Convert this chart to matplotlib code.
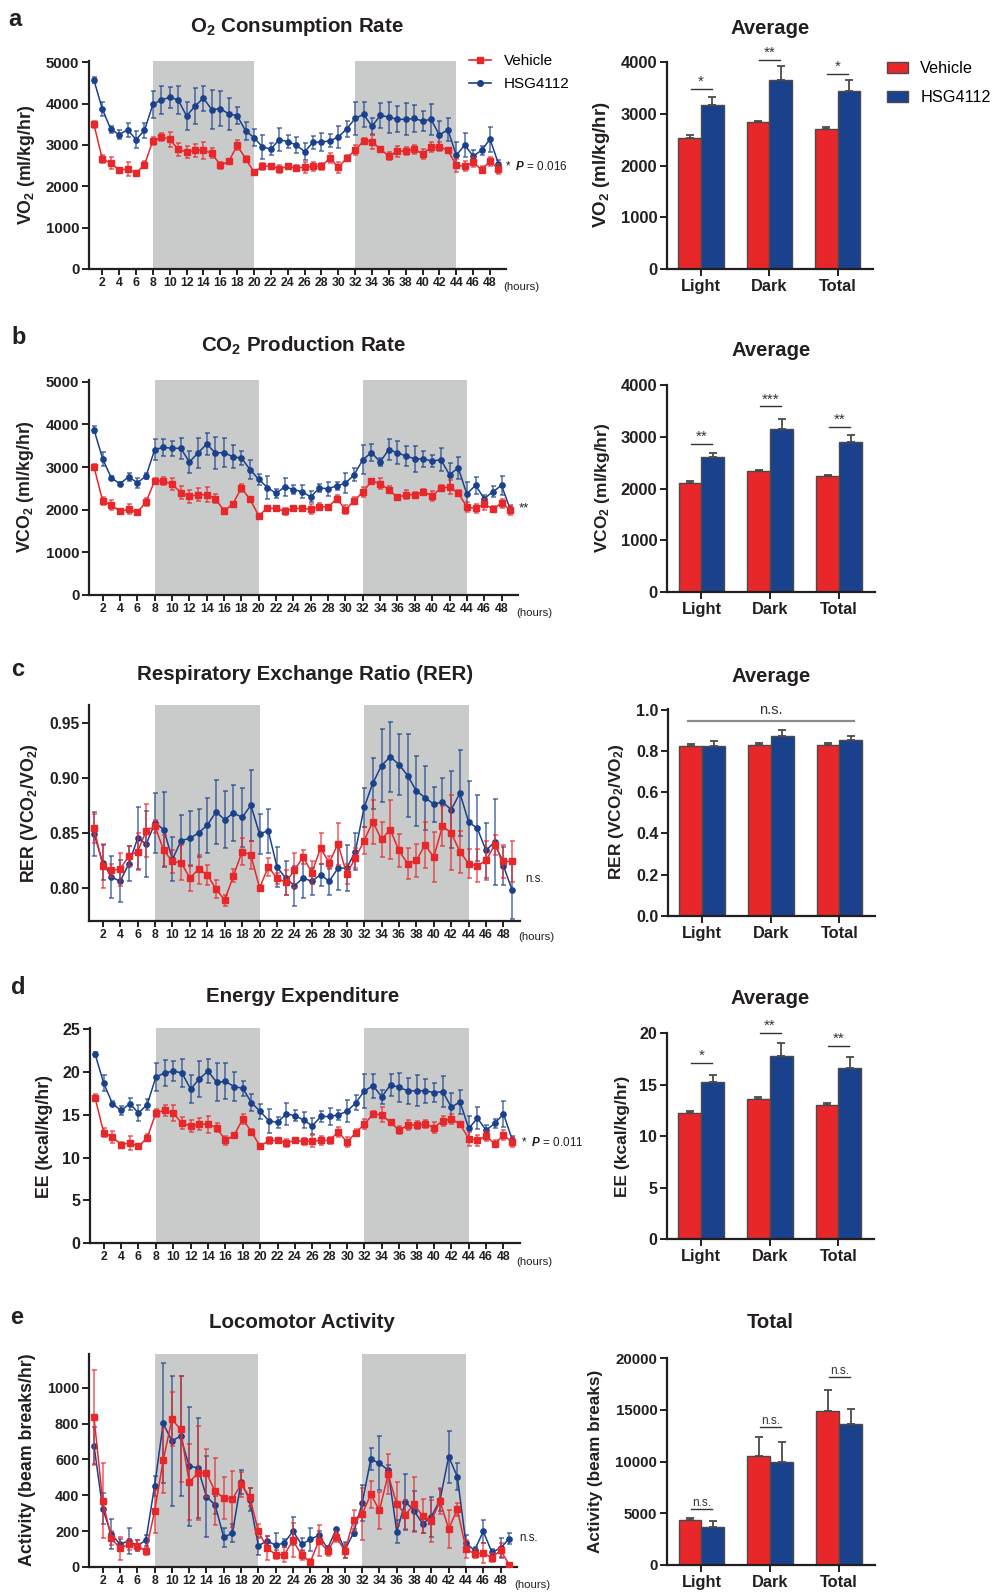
import matplotlib.pyplot as plt
from matplotlib.lines import Line2D
from matplotlib.patches import Patch
from matplotlib.colors import to_rgba
from matplotlib.ticker import FormatStrFormatter
import numpy as np

plt.rcParams['font.family'] = ['Liberation Sans', 'DejaVu Sans']
plt.rcParams['font.weight'] = 'bold'
plt.rcParams['mathtext.fontset'] = 'custom'
plt.rcParams['mathtext.rm'] = 'Liberation Sans:bold'
plt.rcParams['mathtext.bf'] = 'Liberation Sans:bold'
plt.rcParams['mathtext.it'] = 'Liberation Sans:italic'

RED = '#E8272B'
BLUE = '#1A418B'
SHADE = '#C9CACA'
INK = '#231F20'
EDGE = '#4A4A4A'
W, H = 995, 1593

hours = np.arange(1, 50)
hour_ticks = np.arange(2, 49, 2)
dark_phases = [(8, 20), (32, 44)]
groups = ['Light', 'Dark', 'Total']

# ---- a: O2 consumption (ml/kg/hr)
vo2_hsg = [4570, 3870, 3380, 3250, 3370, 3130, 3350, 3980, 4090, 4150,
           4090, 3700, 3940, 4130, 3850, 3880, 3750, 3710, 3340, 3180,
           2950, 2900, 3130, 3080, 3000, 2840, 3060, 3070, 3100, 3190,
           3390, 3640, 3740, 3450, 3720, 3670, 3620, 3620, 3640, 3580,
           3620, 3240, 3370, 2750, 3000, 2730, 2870, 3140, 2550]
vo2_hsg_err = [80, 180, 90, 100, 170, 200, 170, 330, 330, 260,
               340, 350, 430, 300, 470, 430, 380, 200, 220, 200,
               300, 150, 270, 150, 190, 210, 150, 220, 160, 270,
               200, 390, 310, 200, 300, 370, 310, 390, 320, 240,
               380, 350, 280, 310, 290, 150, 110, 300, 80]
vo2_veh = [3500, 2660, 2560, 2390, 2420, 2320, 2520, 3100, 3190, 3140,
           2890, 2830, 2870, 2870, 2800, 2510, 2600, 2990, 2670, 2340,
           2480, 2490, 2420, 2480, 2440, 2460, 2480, 2480, 2680, 2460,
           2680, 2870, 3100, 3080, 2900, 2730, 2850, 2850, 2890, 2790,
           2940, 2960, 2870, 2510, 2480, 2580, 2400, 2600, 2420]
vo2_veh_err = [80, 100, 150, 60, 160, 50, 80, 100, 100, 180,
               150, 150, 150, 200, 120, 80, 60, 120, 60, 60,
               80, 60, 100, 60, 80, 130, 100, 80, 120, 130,
               80, 120, 60, 180, 60, 100, 130, 100, 100, 120,
               120, 100, 60, 160, 120, 120, 80, 120, 130]
vo2_bar_veh = [2540, 2840, 2700]
vo2_bar_veh_err = [50, 30, 45]
vo2_bar_hsg = [3180, 3650, 3440]
vo2_bar_hsg_err = [150, 280, 225]
vo2_sig_y = [3480, 4040, 3770]
vo2_sig = ['*', '**', '*']

# ---- b: CO2 production (ml/kg/hr)
vco2_hsg = [3870, 3190, 2740, 2610, 2770, 2630, 2790, 3410, 3460, 3440,
            3440, 3120, 3330, 3540, 3330, 3340, 3240, 3210, 2940, 2710,
            2520, 2380, 2540, 2470, 2420, 2300, 2510, 2490, 2560, 2620,
            2820, 3170, 3340, 3120, 3410, 3330, 3260, 3190, 3190, 3140,
            3170, 2820, 2980, 2370, 2570, 2260, 2420, 2570, 2010]
vco2_hsg_err = [80, 160, 50, 50, 100, 120, 60, 250, 200, 180,
                250, 250, 360, 250, 370, 340, 270, 160, 230, 130,
                260, 100, 210, 100, 150, 130, 100, 170, 90, 230,
                150, 340, 210, 90, 240, 270, 230, 300, 180, 150,
                270, 280, 260, 270, 200, 80, 130, 230, 80]
vco2_veh = [3000, 2200, 2110, 1960, 2010, 1940, 2180, 2680, 2670, 2600,
            2400, 2310, 2350, 2350, 2260, 1970, 2130, 2510, 2240, 1860,
            2040, 2030, 1960, 2030, 2030, 2010, 2070, 2060, 2260, 2000,
            2210, 2410, 2670, 2610, 2470, 2290, 2350, 2350, 2420, 2320,
            2510, 2530, 2400, 2060, 2030, 2130, 2020, 2150, 2000]
vco2_veh_err = [80, 100, 120, 40, 120, 40, 100, 70, 100, 150,
                150, 150, 150, 180, 100, 70, 50, 100, 60, 50,
                50, 50, 90, 50, 60, 120, 80, 60, 80, 100,
                80, 120, 50, 130, 80, 60, 100, 70, 70, 120,
                70, 160, 60, 120, 110, 130, 60, 100, 120]
vco2_bar_veh = [2100, 2345, 2240]
vco2_bar_veh_err = [40, 15, 20]
vco2_bar_hsg = [2620, 3155, 2905]
vco2_bar_hsg_err = [77, 187, 142]
vco2_sig_y = [2870, 3590, 3195]
vco2_sig = ['**', '***', '**']

# ---- c: RER
rer_hsg = [0.849, 0.823, 0.810, 0.806, 0.822, 0.845, 0.840, 0.859, 0.853, 0.826,
           0.843, 0.845, 0.850, 0.857, 0.869, 0.862, 0.868, 0.864, 0.875, 0.849,
           0.852, 0.819, 0.809, 0.802, 0.809, 0.806, 0.812, 0.806, 0.818, 0.818,
           0.833, 0.873, 0.895, 0.911, 0.919, 0.912, 0.902, 0.888, 0.882, 0.876,
           0.878, 0.871, 0.886, 0.860, 0.854, 0.834, 0.842, 0.820, 0.798]
rer_hsg_err = [0.020, 0.016, 0.019, 0.019, 0.016, 0.028, 0.030, 0.027, 0.034, 0.020,
               0.023, 0.025, 0.022, 0.025, 0.029, 0.026, 0.025, 0.027, 0.032, 0.018,
               0.020, 0.018, 0.015, 0.018, 0.018, 0.012, 0.010, 0.012, 0.020, 0.021,
               0.017, 0.018, 0.023, 0.033, 0.032, 0.028, 0.038, 0.032, 0.029, 0.016,
               0.022, 0.035, 0.039, 0.037, 0.030, 0.025, 0.039, 0.017, 0.026]
rer_veh = [0.854, 0.820, 0.816, 0.817, 0.829, 0.833, 0.852, 0.856, 0.834, 0.824,
           0.823, 0.809, 0.817, 0.812, 0.799, 0.789, 0.811, 0.833, 0.830, 0.800,
           0.819, 0.809, 0.805, 0.816, 0.828, 0.814, 0.836, 0.823, 0.840, 0.813,
           0.827, 0.843, 0.860, 0.844, 0.853, 0.834, 0.822, 0.825, 0.839, 0.828,
           0.856, 0.850, 0.833, 0.822, 0.820, 0.825, 0.839, 0.824, 0.824]
rer_veh_err = [0.013, 0.020, 0.006, 0.015, 0.009, 0.017, 0.024, 0.006, 0.014, 0.010,
               0.016, 0.012, 0.013, 0.009, 0.008, 0.005, 0.006, 0.012, 0.013, 0.003,
               0.008, 0.005, 0.011, 0.016, 0.006, 0.010, 0.014, 0.006, 0.019, 0.009,
               0.009, 0.012, 0.020, 0.016, 0.027, 0.015, 0.014, 0.015, 0.021, 0.023,
               0.018, 0.034, 0.019, 0.013, 0.015, 0.018, 0.009, 0.015, 0.019]
rer_bar_veh = [0.825, 0.828, 0.828]
rer_bar_veh_err = [0.007, 0.011, 0.008]
rer_bar_hsg = [0.825, 0.872, 0.851]
rer_bar_hsg_err = [0.021, 0.027, 0.023]

# ---- d: energy expenditure (kcal/kg/hr)
ee_hsg = [22.1, 18.7, 16.3, 15.5, 16.3, 15.2, 16.2, 19.4, 19.9, 20.1,
          19.9, 18.0, 19.2, 20.1, 18.8, 18.9, 18.3, 18.1, 16.4, 15.4,
          14.3, 14.1, 15.1, 14.9, 14.4, 13.7, 14.8, 14.8, 15.0, 15.4,
          16.4, 17.8, 18.4, 17.1, 18.5, 18.2, 17.8, 17.8, 17.8, 17.6,
          17.7, 15.9, 16.5, 13.4, 14.6, 13.2, 14.0, 15.1, 12.1]
ee_hsg_err = [0.3, 0.9, 0.3, 0.5, 0.7, 0.9, 0.7, 1.6, 1.5, 1.2,
              1.6, 1.6, 2.1, 1.4, 2.2, 2.1, 1.7, 0.9, 1.0, 0.9,
              1.4, 0.6, 1.3, 0.6, 0.9, 0.9, 0.6, 1.0, 0.6, 1.3,
              0.9, 2.0, 1.4, 0.8, 1.3, 1.7, 1.5, 1.8, 1.4, 1.1,
              1.8, 1.6, 1.4, 1.5, 1.3, 0.6, 0.5, 1.5, 0.4]
ee_veh = [17.0, 12.9, 12.4, 11.5, 11.7, 11.3, 12.3, 15.2, 15.5, 15.2,
          14.0, 13.7, 13.9, 13.9, 13.5, 12.0, 12.6, 14.5, 13.0, 11.3,
          12.0, 12.0, 11.7, 12.0, 11.9, 11.9, 12.0, 12.0, 13.0, 11.8,
          12.9, 13.9, 15.1, 15.0, 14.1, 13.2, 13.8, 13.8, 13.9, 13.5,
          14.3, 14.5, 13.9, 12.2, 12.0, 12.5, 11.6, 12.6, 11.8]
ee_veh_err = [0.4, 0.5, 0.7, 0.3, 0.8, 0.3, 0.4, 0.5, 0.6, 0.9,
              0.7, 0.7, 0.7, 1.0, 0.5, 0.5, 0.3, 0.6, 0.3, 0.3,
              0.4, 0.3, 0.5, 0.3, 0.4, 0.7, 0.5, 0.4, 0.6, 0.6,
              0.4, 0.6, 0.3, 0.9, 0.3, 0.5, 0.6, 0.5, 0.5, 0.6,
              0.6, 0.6, 0.3, 0.8, 0.6, 0.6, 0.4, 0.6, 0.6]
ee_bar_veh = [12.25, 13.65, 13.05]
ee_bar_veh_err = [0.2, 0.15, 0.12]
ee_bar_hsg = [15.3, 17.75, 16.65]
ee_bar_hsg_err = [0.6, 1.3, 1.0]
ee_sig_y = [17.15, 20.05, 18.75]
ee_sig = ['*', '**', '**']

# ---- e: locomotor activity (beam breaks/hr)
act_hsg = [677, 325, 182, 128, 145, 119, 149, 452, 801, 703,
           730, 561, 554, 392, 346, 165, 190, 474, 375, 119,
           145, 122, 134, 200, 126, 154, 177, 104, 210, 93,
           191, 355, 602, 578, 541, 197, 364, 314, 240, 281,
           374, 615, 504, 132, 93, 199, 82, 106, 158]
act_hsg_err = [105, 85, 84, 30, 75, 30, 30, 55, 335, 365,
               335, 333, 278, 225, 50, 55, 50, 65, 65, 50,
               30, 65, 20, 80, 35, 65, 25, 15, 10, 45,
               20, 100, 63, 150, 30, 65, 155, 112, 50, 111,
               60, 145, 74, 46, 20, 65, 20, 55, 30]
act_veh = [834, 370, 160, 104, 126, 119, 87, 310, 595, 824,
           768, 472, 524, 524, 422, 385, 379, 461, 390, 199,
           106, 69, 69, 148, 67, 28, 147, 89, 169, 89,
           260, 296, 405, 316, 517, 351, 292, 349, 284, 258,
           368, 212, 322, 100, 74, 78, 52, 93, 13]
act_veh_err = [265, 208, 40, 65, 30, 30, 20, 120, 180, 150,
               296, 212, 264, 136, 188, 119, 158, 70, 50, 40,
               65, 25, 40, 95, 30, 15, 87, 30, 30, 40,
               58, 143, 75, 104, 111, 125, 80, 151, 93, 116,
               74, 106, 37, 50, 25, 55, 25, 40, 5]
act_bar_veh = [4330, 10560, 14860]
act_bar_veh_err = [190, 1830, 2090]
act_bar_hsg = [3630, 9980, 13640]
act_bar_hsg_err = [610, 1960, 1480]
act_sig_y = [5460, 13390, 18200]
act_sig = ['n.s.', 'n.s.', 'n.s.']

fig = plt.figure(figsize=(W / 100, H / 100), dpi=100)


def box(l, t, r, b):
    return [l / W, 1 - b / H, (r - l) / W, (b - t) / H]


def txt(x, y, s, **kw):
    kw.setdefault('color', INK)
    return fig.text(x / W, 1 - y / H, s, **kw)


def spines(ax):
    for s in ['top', 'right']:
        ax.spines[s].set_visible(False)
    for s in ['left', 'bottom']:
        ax.spines[s].set_linewidth(1.6)
        ax.spines[s].set_color(INK)


def line_panel(px, veh, veh_err, hsg, hsg_err, ylim, yticks, fmt, ysize=10.8):
    ax = fig.add_axes(box(*px))
    for s, e in dark_phases:
        ax.axvspan(s, e, color=SHADE, lw=0, zorder=0)
    ax.errorbar(hours, hsg, yerr=hsg_err, color=BLUE, lw=1.1, marker='o', ms=3.8,
                ecolor=to_rgba(BLUE, 0.75), elinewidth=1.1, capsize=1.8, capthick=1.1, zorder=2)
    ax.errorbar(hours, veh, yerr=veh_err, color=RED, lw=1.1, marker='s', ms=4.2,
                ecolor=to_rgba(RED, 0.75), elinewidth=1.1, capsize=1.8, capthick=1.1, zorder=3)
    ax.set_xlim(0.42, 49.9)
    ax.set_ylim(*ylim)
    ax.set_xticks(hour_ticks)
    ax.set_yticks(yticks)
    ax.yaxis.set_major_formatter(FormatStrFormatter(fmt))
    spines(ax)
    ax.tick_params(axis='x', colors=INK, width=1.4, length=4, labelsize=8.8, pad=2)
    ax.tick_params(axis='y', colors=INK, width=1.4, length=5, labelsize=ysize, pad=2)
    return ax


def bar_panel(px, veh, veh_err, hsg, hsg_err, ylim, yticks, fmt, ysize=11.5):
    ax = fig.add_axes(box(*px))
    x = np.arange(len(groups))
    w = 0.333
    ax.bar(x - w / 2, veh, w, color=RED, edgecolor=EDGE, lw=1.0, zorder=2)
    ax.bar(x + w / 2, hsg, w, color=BLUE, edgecolor=EDGE, lw=1.0, zorder=2)
    ax.errorbar(x - w / 2, veh, yerr=[np.zeros(3), veh_err], fmt='none', ecolor=EDGE,
                elinewidth=1.3, capsize=3.2, capthick=1.3, zorder=1)
    ax.errorbar(x + w / 2, hsg, yerr=[np.zeros(3), hsg_err], fmt='none', ecolor=EDGE,
                elinewidth=1.3, capsize=3.2, capthick=1.3, zorder=1)
    ax.set_xlim(-0.5, 2.52)
    ax.set_ylim(*ylim)
    ax.set_xticks(x)
    ax.set_xticklabels(groups)
    ax.set_yticks(yticks)
    ax.yaxis.set_major_formatter(FormatStrFormatter(fmt))
    spines(ax)
    ax.tick_params(axis='x', colors=INK, width=1.4, length=5, labelsize=11.8, pad=2)
    ax.tick_params(axis='y', colors=INK, width=1.4, length=5, labelsize=ysize, pad=2)
    return ax


def sig_marks(ax, ys, labels, size):
    for i, (y, s) in enumerate(zip(ys, labels)):
        ax.plot([i - 0.15, i + 0.16], [y, y], color='#333333', lw=1.0, clip_on=False)
        ax.text(i, y, s, ha='center', va='bottom', fontsize=size, fontweight='normal',
                color='#333333', clip_on=False)


def hours_label(x, y):
    txt(x, y, '(hours)', fontsize=8.2, fontweight='normal', ha='left', va='center')


TITLE = 14.8

# ---------------- row a
ax = line_panel((89, 61, 506, 269), vo2_veh, vo2_veh_err, vo2_hsg, vo2_hsg_err,
                (0, 5030), np.arange(0, 5001, 1000), '%d')
txt(8, 19, 'a', fontsize=17, va='center')
txt(297, 27, r'O$_2$ Consumption Rate', fontsize=TITLE, ha='center', va='center')
txt(27, 165, r'VO$_2$ (ml/kg/hr)', fontsize=12.8, rotation=90, ha='center', va='center')
txt(505, 167, r'*  $P$ = 0.016', fontsize=8.4, fontweight='normal', va='center')
hours_label(503, 287)
line_handles = [Line2D([], [], color=RED, marker='s', ms=4.4, lw=1.2),
                Line2D([], [], color=BLUE, marker='o', ms=4, lw=1.2)]
fig.legend(line_handles, ['Vehicle', 'HSG4112'], loc='upper left',
           bbox_to_anchor=(469 / W, 1 - 54 / H), frameon=False,
           prop={'size': 11, 'weight': 'normal'}, handlelength=1.45,
           handletextpad=0.85, labelspacing=0.62, borderpad=0, borderaxespad=0)

ax = bar_panel((667, 62, 873, 269), vo2_bar_veh, vo2_bar_veh_err, vo2_bar_hsg,
               vo2_bar_hsg_err, (0, 4005), np.arange(0, 4001, 1000), '%d', ysize=12)
sig_marks(ax, vo2_sig_y, vo2_sig, 11)
txt(770, 29, 'Average', fontsize=14.6, ha='center', va='center')
txt(602, 165, r'VO$_2$ (ml/kg/hr)', fontsize=13.5, rotation=90, ha='center', va='center')
bar_handles = [Patch(facecolor=RED, edgecolor=EDGE, lw=1),
               Patch(facecolor=BLUE, edgecolor=EDGE, lw=1)]
fig.legend(bar_handles, ['Vehicle', 'HSG4112'], loc='upper left',
           bbox_to_anchor=(887 / W, 1 - 61 / H), frameon=False,
           prop={'size': 11.7, 'weight': 'normal'}, handlelength=1.3, handleheight=0.66,
           handletextpad=0.74, labelspacing=0.85, borderpad=0, borderaxespad=0)

# ---------------- row b
ax = line_panel((89, 380, 518, 595), vco2_veh, vco2_veh_err, vco2_hsg, vco2_hsg_err,
                (0, 5040), np.arange(0, 5001, 1000), '%d')
txt(11, 337, 'b', fontsize=17, va='center')
txt(303, 346, r'CO$_2$ Production Rate', fontsize=TITLE, ha='center', va='center')
txt(26, 487, r'VCO$_2$ (ml/kg/hr)', fontsize=12.8, rotation=90, ha='center', va='center')
txt(519, 508, '**', fontsize=9.5, fontweight='normal', va='center')
hours_label(516, 613)

ax = bar_panel((667, 385, 875, 592), vco2_bar_veh, vco2_bar_veh_err, vco2_bar_hsg,
               vco2_bar_hsg_err, (0, 4005), np.arange(0, 4001, 1000), '%d', ysize=12)
sig_marks(ax, vco2_sig_y, vco2_sig, 11)
txt(771, 351, 'Average', fontsize=14.6, ha='center', va='center')
txt(603, 488, r'VCO$_2$ (ml/kg/hr)', fontsize=12.5, rotation=90, ha='center', va='center')

# ---------------- row c
ax = line_panel((89, 705, 520, 921), rer_veh, rer_veh_err, rer_hsg, rer_hsg_err,
                (0.770, 0.966), [0.80, 0.85, 0.90, 0.95], '%.2f', ysize=11.2)
txt(11, 670, 'c', fontsize=17, va='center')
txt(305, 675, 'Respiratory Exchange Ratio (RER)', fontsize=TITLE, ha='center', va='center')
txt(30, 813, r'RER (VCO$_2$/VO$_2$)', fontsize=12.8, rotation=90, ha='center', va='center')
txt(525, 879, 'n.s.', fontsize=8.4, fontweight='normal', va='center')
hours_label(518, 937)

ax = bar_panel((668, 709, 875, 916), rer_bar_veh, rer_bar_veh_err, rer_bar_hsg,
               rer_bar_hsg_err, (0, 1.003), np.arange(0, 1.01, 0.2), '%.1f')
ax.plot([-0.21, 2.21], [0.945, 0.945], color='#8A8A8A', lw=1.6, clip_on=False)
ax.text(1.0, 1.0, 'n.s.', ha='center', va='center', fontsize=10.5, fontweight='normal',
        color='#333333', clip_on=False)
txt(771, 676, 'Average', fontsize=14.6, ha='center', va='center')
txt(617, 812, r'RER (VCO$_2$/VO$_2$)', fontsize=12.5, rotation=90, ha='center', va='center')

# ---------------- row d
ax = line_panel((90, 1028, 520, 1243), ee_veh, ee_veh_err, ee_hsg, ee_hsg_err,
                (0, 25.15), np.arange(0, 26, 5), '%d', ysize=11.5)
txt(11, 988, 'd', fontsize=17, va='center')
txt(303, 996, 'Energy Expenditure', fontsize=TITLE, ha='center', va='center')
txt(45, 1136, 'EE (kcal/kg/hr)', fontsize=12.8, rotation=90, ha='center', va='center')
txt(521, 1142, r'*  $P$ = 0.011', fontsize=8.4, fontweight='normal', va='center')
hours_label(516, 1262)

ax = bar_panel((667, 1033, 874, 1239), ee_bar_veh, ee_bar_veh_err, ee_bar_hsg,
               ee_bar_hsg_err, (0, 20.02), np.arange(0, 21, 5), '%d')
sig_marks(ax, ee_sig_y, ee_sig, 11)
txt(770, 999, 'Average', fontsize=14.6, ha='center', va='center')
txt(623, 1136, 'EE (kcal/kg/hr)', fontsize=12.5, rotation=90, ha='center', va='center')

# ---------------- row e
ax = line_panel((89, 1354, 517, 1567), act_veh, act_veh_err, act_hsg, act_hsg_err,
                (0, 1188), np.arange(0, 1001, 200), '%d', ysize=10.4)
txt(10, 1317, 'e', fontsize=17, va='center')
txt(302, 1322, 'Locomotor Activity', fontsize=TITLE, ha='center', va='center')
txt(28, 1460, 'Activity (beam breaks/hr)', fontsize=12.8, rotation=90, ha='center', va='center')
txt(519, 1538, 'n.s.', fontsize=8.4, fontweight='normal', va='center')
hours_label(514, 1585)

ax = bar_panel((667, 1358, 875, 1565), act_bar_veh, act_bar_veh_err, act_bar_hsg,
               act_bar_hsg_err, (0, 20020), np.arange(0, 20001, 5000), '%d', ysize=10.8)
sig_marks(ax, act_sig_y, act_sig, 8.5)
txt(770, 1322, 'Total', fontsize=14.6, ha='center', va='center')
txt(596, 1461, 'Activity (beam breaks)', fontsize=12.3, rotation=90, ha='center', va='center')

fig.savefig('out.png', dpi=100)
